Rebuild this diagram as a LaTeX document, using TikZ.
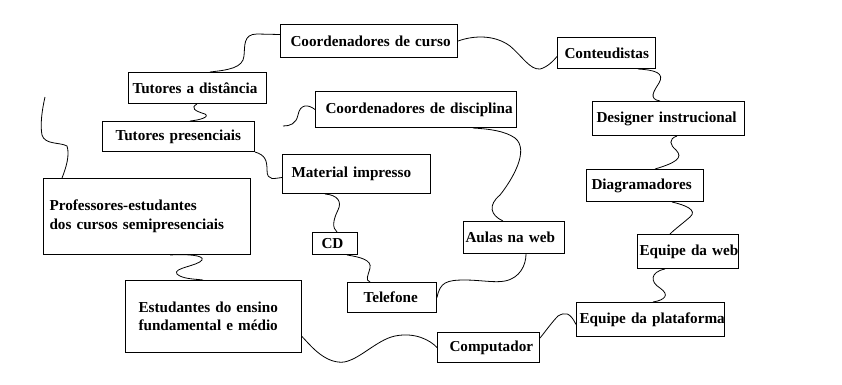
\documentclass[tikz,border=0pt]{standalone}
\usepackage{fontspec}
\setmainfont{Liberation Serif}
\hyphenpenalty=10000
\exhyphenpenalty=10000

\begin{document}
\begin{tikzpicture}[x=1pt,y=-1pt,
  caixa/.style={draw,line width=1pt,anchor=north west,align=left,inner ysep=0pt,
    font=\bfseries\fontsize{15.2}{18.5}\selectfont},
  fio/.style={line width=0.8pt}]
\useasboundingbox (0,0) rectangle (842,384);

\node[caixa,text width=157pt,inner xsep=10pt,minimum height=33pt] (curso) at (280,24) {Coordenadores~de~curso};
\node[caixa,text width=84pt,inner xsep=7pt,minimum height=31pt] (cont) at (557,37) {Conteudistas};
\node[caixa,text width=130pt,inner xsep=4pt,minimum height=31pt] (tdist) at (128,72) {Tutores~a~distância};
\node[caixa,text width=181pt,inner xsep=10pt,minimum height=36pt] (cdisc) at (315,91) {Coordenadores~de~disciplina};
\node[caixa,text width=126pt,inner xsep=13pt,minimum height=30pt] (tpres) at (102,121) {Tutores~presenciais};
\node[caixa,text width=144pt,inner xsep=4pt,minimum height=34pt] (design) at (592,101) {Designer~instrucional};
\node[caixa,text width=130pt,inner xsep=9pt,minimum height=39pt] (mat) at (282,154) {Material~impresso};
\node[caixa,text width=195pt,inner xsep=6pt,minimum height=76pt] (prof) at (43,178) {Professores-estudantes\\dos~cursos~semipresenciais};
\node[caixa,text width=107pt,inner xsep=5pt,minimum height=32pt] (diag) at (586,169) {Diagramadores};
\node[caixa,text width=27pt,inner xsep=9pt,minimum height=22pt] (cd) at (312,232) {CD};
\node[caixa,text width=97pt,inner xsep=2pt,minimum height=32pt] (aulas) at (463,221) {Aulas~na~web};
\node[caixa,text width=97pt,inner xsep=2pt,minimum height=34pt] (eweb) at (637,234) {Equipe~da~web};
\node[caixa,text width=150pt,inner xsep=13pt,minimum height=72pt] (estud) at (125,280) {Estudantes~do~ensino\\fundamental~e~médio};
\node[caixa,text width=57pt,inner xsep=16pt,minimum height=30pt] (tel) at (347,282) {Telefone};
\node[caixa,text width=142pt,inner xsep=3pt,minimum height=34pt] (eplat) at (576,302) {Equipe~da~plataforma};
\node[caixa,text width=78pt,inner xsep=12pt,minimum height=30pt] (comp) at (437,332) {Computador};

\coordinate (ini) at (45,97);
\coordinate (fim) at (283,126);

\draw[fio] ([yshift=6.5pt]curso.west) -- (257,34) .. controls (243,34) and (245,46) .. (244,56) .. controls (243,68) and (228,70) .. ([xshift=82pt]tdist.north west);
\draw[fio] (curso.east) .. controls (475,35) and (495,35) .. (510,46) .. controls (522,56) and (530,70) .. (540,69) .. controls (548,67) and (554,60) .. ([yshift=-3.5pt]cont.west);
\draw[fio] ([xshift=81pt]cont.south west) .. controls (655,70) and (665,73) .. (659,83) .. controls (654,91) and (648,99) .. ([xshift=68pt]design.north west);
\draw[fio] ([xshift=85pt]design.south west) .. controls (668,139) and (670,145) .. (676,150) .. controls (684,158) and (675,163) .. ([xshift=69pt]diag.north west);
\draw[fio] ([xshift=86pt]diag.south west) .. controls (685,205) and (698,210) .. (690,217) .. controls (682,224) and (675,229) .. ([xshift=33pt]eweb.north west);
\draw[fio] ([xshift=28pt]eweb.south west) .. controls (650,272) and (650,282) .. (660,288) .. controls (670,295) and (665,300) .. ([xshift=77pt]eplat.north west);
\draw[fio] ([yshift=-5pt]eplat.west) .. controls (570,312) and (565,312) .. (558,316) .. controls (552,322) and (545,332) .. ([yshift=-6pt]comp.north east);
\draw[fio] (comp.west) .. controls (430,340) and (415,332) .. (395,336) .. controls (375,340) and (355,365) .. (338,362) .. controls (322,360) and (310,345) .. ([yshift=-20pt]estud.east);
\draw[fio] (tel.east) .. controls (440,282) and (447,280) .. (465,280) .. controls (480,280) and (495,283) .. (505,281) .. controls (520,278) and (526,265) .. ([xshift=63pt]aulas.south west);
\draw[fio] ([xshift=40pt]aulas.north west) .. controls (490,215) and (488,205) .. (500,195) .. controls (512,180) and (530,150) .. (515,138) .. controls (505,131) and (490,129) .. ([xshift=158pt]cdisc.south west);
\draw[fio] (cdisc.west) .. controls (308,104) and (300,104) .. (298,115) .. controls (296,124) and (290,126) .. (fim);
\draw[fio] ([xshift=69pt]tdist.south west) .. controls (190,108) and (195,111) .. (205,114) .. controls (210,117) and (200,120) .. ([xshift=88pt]tpres.north west);
\draw[fio] (tpres.south east) .. controls (265,155) and (267,160) .. (267,170) .. controls (267,182) and (275,178) .. ([yshift=-3.5pt]mat.west);
\draw[fio] ([xshift=43pt]mat.south west) .. controls (338,195) and (342,202) .. (338,210) .. controls (333,220) and (332,228) .. ([xshift=25pt]cd.north west);
\draw[fio] ([xshift=35pt]cd.south west) .. controls (360,257) and (372,260) .. (370,268) .. controls (368,276) and (365,280) .. ([xshift=23pt]tel.north west);
\draw[fio] ([xshift=127pt]prof.south west) .. controls (185,254) and (205,255) .. (202,260) .. controls (198,266) and (172,268) .. (177,274) .. controls (182,279) and (195,279) .. ([xshift=78pt]estud.north west);
\draw[fio] (ini) .. controls (42,110) and (40,125) .. (42,135) .. controls (45,145) and (60,142) .. (67,146) .. controls (70,155) and (66,168) .. ([xshift=19pt]prof.north west);

\end{tikzpicture}
\end{document}
